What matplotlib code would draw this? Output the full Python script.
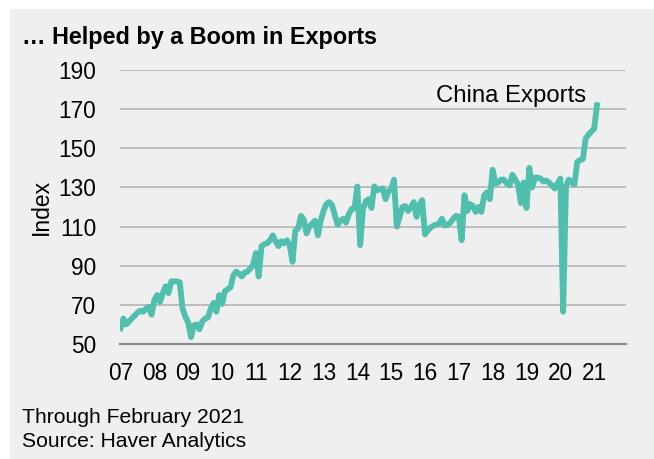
import matplotlib
matplotlib.use("Agg")
import matplotlib.pyplot as plt
from matplotlib.patches import Rectangle

plt.rcParams['font.family'] = ['Liberation Sans', 'DejaVu Sans']

# monthly index, Jan 2007 .. Feb 2021
y2007 = [58, 63, 60, 61.5, 63, 64.5, 66, 67, 66.5, 68, 69, 65]
y2008 = [72.5, 75, 71.5, 76, 79.5, 76, 82, 82, 82, 81.5, 68, 64]
y2009 = [61, 53.5, 59.5, 60, 57.5, 61.5, 63, 63.5, 68, 71, 66.5, 75]
y2010 = [70.5, 77, 78, 79, 85, 87, 86, 84.5, 86.5, 87, 88.5, 90.5]
y2011 = [96.5, 84.5, 100, 101, 101.5, 103, 105.5, 102.5, 100, 102.5, 101.5, 103]
y2012 = [100.5, 92, 108, 109, 115.5, 113.5, 106.5, 110, 111.5, 113, 105.5, 113]
y2013 = [118, 121.5, 122.5, 121, 116, 111, 113, 114, 112, 116.5, 119, 119.5]
y2014 = [130.5, 100.5, 119, 123, 124, 119.5, 130.5, 128.5, 129, 129.5, 124, 128]
y2015 = [129, 134, 110, 115, 120, 120.5, 118, 120, 122.5, 115, 121, 123.5]
y2016 = [106, 108, 109.5, 110.5, 111, 111.5, 114, 110.5, 111, 112, 114, 115.5]
y2017 = [115, 103, 126, 118, 121.5, 120.5, 117.5, 120, 117.5, 126, 127.5, 124]
y2018 = [139, 132, 132.5, 134, 134, 132, 131, 136.5, 134, 131.5, 122, 132.5]
y2019 = [119.5, 140, 130, 135, 135, 134.5, 133, 133.5, 132.5, 131, 129.5, 132]
y2020 = [134.5, 66.5, 130.5, 134, 132.5, 131.5, 143, 144, 144.5, 155, 157, 158.5]
y2021 = [160, 172]

exports = (y2007 + y2008 + y2009 + y2010 + y2011 + y2012 + y2013 + y2014
           + y2015 + y2016 + y2017 + y2018 + y2019 + y2020 + y2021)
months = list(range(len(exports)))

year_labels = ['07', '08', '09', '10', '11', '12', '13', '14',
               '15', '16', '17', '18', '19', '20', '21']
y_ticks = [50, 70, 90, 110, 130, 150, 170, 190]

fig = plt.figure(figsize=(6.54, 4.59), dpi=100)
fig.patch.set_facecolor('white')
# gray panel behind everything
fig.patches.append(Rectangle((10 / 654, 0), 1, 1 - 9 / 459, transform=fig.transFigure,
                             facecolor='#efefef', edgecolor='none', zorder=-1))

ax = fig.add_axes([120 / 654, 1 - 344 / 459, 506 / 654, 274 / 459])
ax.set_facecolor('none')

ax.plot(months, exports, color='#50bfad', lw=4.2, solid_joinstyle='round', zorder=3)

ax.set_ylim(50, 190)
ax.set_xlim(-0.2, 179.3)
ax.set_yticks(y_ticks)
ax.set_xticks([12 * i for i in range(len(year_labels))])
ax.set_xticklabels(year_labels)
ax.grid(axis='y', color='#bdbdbd', lw=1.4)
ax.set_axisbelow(True)
for s in ['top', 'right', 'left']:
    ax.spines[s].set_visible(False)
ax.spines['bottom'].set_color('#8c8c8c')
ax.spines['bottom'].set_linewidth(1.6)
ax.tick_params(axis='both', length=0, labelsize=16.3, colors='black')
ax.tick_params(axis='y', pad=17)
ax.tick_params(axis='x', pad=13)
ax.set_ylabel('Index', fontsize=16.5, labelpad=4)

ax.text(111.9, 173.5, 'China Exports', fontsize=17.2, ha='left', va='baseline')

fig.text(21.5 / 654, 1 - 44.3 / 459, '\u2026 Helped by a Boom in Exports', fontsize=16.8,
         fontweight='bold', ha='left', va='baseline')
fig.text(21.5 / 654, 1 - 423.3 / 459, 'Through February 2021', fontsize=15.2,
         ha='left', va='baseline')
fig.text(21.5 / 654, 1 - 446.7 / 459, 'Source: Haver Analytics', fontsize=15.2,
         ha='left', va='baseline')

fig.savefig('out.png', dpi=100)
